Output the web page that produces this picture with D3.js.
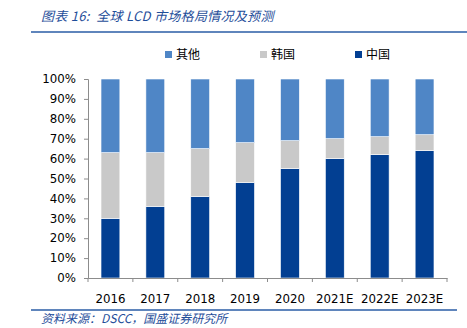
<!DOCTYPE html>
<html>
<head>
<meta charset="utf-8">
<script src="https://cdn.jsdelivr.net/npm/d3@7"></script>
<style>
  body { margin: 0; background: #fff; }
  svg { display: block; }
</style>
</head>
<body>
<svg id="chart"></svg>
<script>
(function(){

    var years = ["2016", "2017", "2018", "2019", "2020", "2021E", "2022E", "2023E"]
    var china = [30, 36, 41, 48, 55, 60, 62, 64]
    var korea = [33, 27, 24, 20, 14, 10, 9, 8]
    var others = [37, 37, 35, 32, 31, 30, 29, 28]
    var seriesNames = ["中国", "韩国", "其他"]
    var legendOrder = ["其他", "韩国", "中国"]
    var yTicks = [0, 10, 20, 30, 40, 50, 60, 70, 80, 90, 100]

    var colors = {"中国": "#023f92", "韩国": "#c9c9c9", "其他": "#4f86c6"}
    var blue = "#1f4e9a"

    var W = 467, H = 328
    var margin = {top: 79, right: 20, bottom: 50, left: 88}
    var width = W - margin.left - margin.right
    var height = H - margin.top - margin.bottom

    var svg = d3.select("svg#chart").attr("width", W).attr("height", H)

    // title + rules
    svg.append("text")
        .attr("x", 41).attr("y", 21)
        .attr("xml:space", "preserve")
        .style("font-family", "'Noto Sans CJK SC', sans-serif")
        .style("font-style", "italic")
        .style("font-size", "13px")
        .style("fill", blue)
        .style("letter-spacing", "0.3px")
        .text("图表 16:\u00a0\u00a0全球 LCD 市场格局情况及预测")

    svg.append("line").attr("x1", 31).attr("x2", 467).attr("y1", 32).attr("y2", 32)
        .style("stroke", "#2a5ca6").style("stroke-width", 1.5)
    svg.append("line").attr("x1", 31).attr("x2", 457).attr("y1", 310).attr("y2", 310)
        .style("stroke", "#2a5ca6").style("stroke-width", 1.5)

    svg.append("text")
        .attr("x", 41).attr("y", 323)
        .style("font-family", "'Noto Sans CJK SC', sans-serif")
        .style("font-style", "italic")
        .style("font-size", "12px")
        .style("fill", blue)
        .text("资料来源：DSCC，国盛证券研究所")

    var g = svg.append("g")
        .attr("transform", "translate(" + margin.left + "," + margin.top + ")")

    var x = d3.scaleBand().domain(years).range([0, width]).paddingInner(0.58).paddingOuter(0.29)
    var xb = d3.scaleBand().domain(years).range([0, width])
    var y = d3.scaleLinear().domain([0, 100]).range([height, 0])

    var rows = years.map(function(yr, i) {
        return {year: yr, "中国": china[i], "韩国": korea[i], "其他": others[i]}
    })
    var stacked = d3.stack().keys(seriesNames)(rows)

    g.selectAll("g.series")
        .data(stacked)
        .enter().append("g")
        .attr("class", "series")
        .style("fill", function(d) { return colors[d.key] })
        .selectAll("rect")
        .data(function(d) { return d })
        .enter().append("rect")
        .attr("x", function(d) { return x(d.data.year) })
        .attr("width", x.bandwidth())
        .attr("y", function(d) { return y(d[1]) })
        .attr("height", function(d) { return y(d[0]) - y(d[1]) })
        .style("stroke", "#fff")
        .style("stroke-width", 0.6)

    var axisColor = "#8c8c8c"
    var font = "'DejaVu Sans', sans-serif"

    // y axis
    var yAxis = g.append("g")
        .call(d3.axisLeft(y).tickValues(yTicks).tickSize(4).tickPadding(8)
            .tickFormat(function(d) { return d + "%" }))
    yAxis.select(".domain").style("stroke", axisColor)
    yAxis.selectAll(".tick line").style("stroke", axisColor)
    yAxis.selectAll("text").style("font-family", font).style("font-size", "11.8px").style("fill", "#000")

    // x axis with ticks at band boundaries
    var xAxis = g.append("g")
        .attr("transform", "translate(0," + height + ")")
        .call(d3.axisBottom(x).tickSize(0).tickPadding(17))
    xAxis.select(".domain").style("stroke", axisColor)
    xAxis.selectAll("text").style("font-family", font).style("font-size", "11.8px").style("fill", "#000")
    g.append("g")
        .selectAll("line")
        .data(years.concat(["end"]))
        .enter().append("line")
        .attr("x1", function(d, i) { return i < years.length ? xb(d) : width })
        .attr("x2", function(d, i) { return i < years.length ? xb(d) : width })
        .attr("y1", height).attr("y2", height + 4)
        .style("stroke", axisColor)

    // legend
    var legendX = [165, 260, 355]
    var legend = svg.append("g").selectAll("g")
        .data(legendOrder)
        .enter().append("g")
        .attr("transform", function(d, i) { return "translate(" + legendX[i] + ",51)" })
    legend.append("rect").attr("width", 7).attr("height", 7)
        .style("fill", function(d) { return colors[d] })
    legend.append("text")
        .attr("x", 11).attr("y", 8)
        .style("font-family", "'Noto Sans CJK SC', sans-serif")
        .style("font-size", "12px")
        .style("fill", "#000")
        .text(function(d) { return d })

})();
</script>
</body>
</html>
